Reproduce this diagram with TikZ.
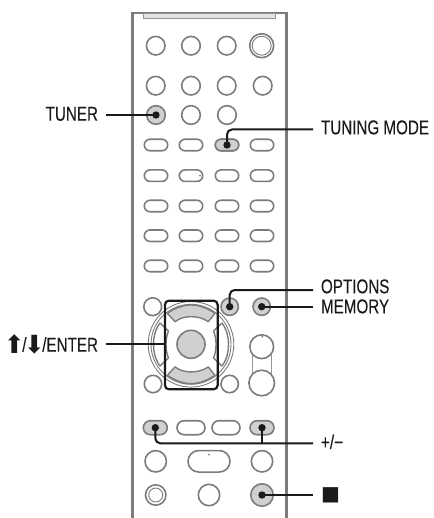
\documentclass[tikz,border=0pt]{standalone}
\usepackage{fontspec}
\setmainfont[FakeStretch=0.76,FakeBold=0.15]{Liberation Sans}
\newfontfamily\djv{DejaVu Sans}
\usetikzlibrary{shapes.misc}
\definecolor{edgegray}{HTML}{7C7C7C}
\definecolor{fillgray}{HTML}{D0D0D0}
\definecolor{inkblack}{HTML}{1A1A1A}
\tikzset{
  x=1pt,y=-1pt,
  btn/.style={circle,draw=edgegray,line width=1.6pt,inner sep=0pt,minimum size=#1*2pt},
  btn/.default=9.3,
  pill/.style={rounded rectangle,draw=edgegray,line width=1.6pt,inner sep=0pt,minimum width=#1*2pt,minimum height=11.5pt},
  pill/.default=11.7,
  hot/.style={fill=fillgray},
  conn/.style={draw=inkblack,line width=2pt,rounded corners=5pt},
  dotmark/.style={fill=inkblack,draw=none,circle,inner sep=0pt,minimum size=7.4pt},
  lab/.style={inner sep=0pt,outer xsep=8pt,font=\fontsize{20}{20}\selectfont,text=inkblack},
  spot/.style={fill=gray,draw=none,circle,inner sep=0pt,minimum size=2pt},
  wedge/.style={draw=edgegray,line width=1.4pt,line join=round},
  thinring/.style={draw=edgegray,line width=0.9pt},
}
\newcommand{\bigarrow}[1]{\kern-2.6pt\raisebox{-1.4pt}{\djv\fontsize{25}{25}\selectfont #1}\kern-2.6pt}
\begin{document}
\begin{tikzpicture}
\useasboundingbox (0,0) rectangle (433,518);
% case
\draw[edgegray,line width=2.2pt] (132.5,518) -- (132.5,13) -- (286.5,13) -- (286.5,518);
\draw[edgegray!80,line width=1.2pt,fill=fillgray!60] (143.5,13.5) rectangle (275.5,18.5);
% row 1-3
\node[btn] (a1) at (155.7,45.7) {};
\node[btn] (a2) at (191,45.7) {};
\node[btn] (a3) at (226.7,45.7) {};
\node[btn=12] (a4) at (261.7,45.7) {};
\node[circle,thinring,inner sep=0pt,minimum size=19pt] (a4i) at (a4) {};
\node[btn] (b1) at (155.7,85.7) {};
\node[btn] (b2) at (191,85.7) {};
\node[btn] (b3) at (226.7,85.7) {};
\node[btn] (b4) at (262.7,85.7) {};
\node[btn,hot] (tuner) at (156,115) {};
\node[btn] (c2) at (191,115) {};
\node[btn] (c3) at (227,115) {};
% pill rows
\foreach \yy/\nm in {145/d,175.7/e,206/f,235.7/g,266/h}{
  \node[pill] (\nm1) at (156,\yy) {};
  \node[pill] (\nm2) at (191,\yy) {};
  \node[pill] (\nm3) at (227,\yy) {};
  \node[pill] (\nm4) at (262,\yy) {};
}
\node[pill,hot] (mode) at (227,145) {};
\node[spot] (s1) at (200,175.7) {};
% row 9
\node[btn=8.9] (i1) at (152.7,306.7) {};
\node[btn=8.7,hot] (options) at (229.7,306.7) {};
\node[btn=8.7,hot] (memory) at (261.7,306.7) {};
% pad
\node[circle,thinring,inner sep=0pt,minimum size=85.6pt] (ringo) at (191,344.3) {};
\node[circle,thinring,inner sep=0pt,minimum size=80pt] (ringi) at (191,344.3) {};
\draw[wedge,fill=white] (160,323) .. controls (155,330) and (153.5,337) .. (153.5,344.3) .. controls (153.5,352) and (155,359) .. (160,366) -- (168.5,358) .. controls (166.5,353) and (166,349) .. (166,344.3) .. controls (166,340) and (166.5,336) .. (168.5,331) -- cycle;
\draw[wedge,fill=white] (222,323) .. controls (227,330) and (228.5,337) .. (228.5,344.3) .. controls (228.5,352) and (227,359) .. (222,366) -- (213.5,358) .. controls (215.5,353) and (216,349) .. (216,344.3) .. controls (216,340) and (215.5,336) .. (213.5,331) -- cycle;
\draw[wedge,fill=fillgray] (167.3,313.3) .. controls (175,308) and (183,305) .. (191,305) .. controls (199,305) and (207,308) .. (215,313.3) -- (208.3,321.7) .. controls (203,318) and (197,316.7) .. (191,316.7) .. controls (185,316.7) and (180,318) .. (175,321.7) -- cycle;
\draw[wedge,fill=fillgray] (167.3,375.3) .. controls (175,380.6) and (183,383.6) .. (191,383.6) .. controls (199,383.6) and (207,380.6) .. (215,375.3) -- (208.3,366.9) .. controls (203,370.6) and (197,371.9) .. (191,371.9) .. controls (185,371.9) and (180,370.6) .. (175,366.9) -- cycle;
\node[btn=14,hot] (center) at (191,344.3) {};
\node[btn=8.7,fill=white] (j1) at (153,384) {};
\node[btn=8.7,fill=white] (j2) at (229.7,384) {};
\node[rectangle,draw=inkblack,line width=2.2pt,rounded corners=4pt,minimum width=52.7pt,minimum height=88.6pt,inner sep=0pt,outer sep=0pt] (padbox) at (191.3,345) {};
% capsule
\draw[edgegray!80,line width=1pt] (252.3,355) -- (252.3,375) (271.3,355) -- (271.3,375);
\node[btn=11.9] (k1) at (261.7,346.7) {};
\node[btn=12.8,fill=white] (k2) at (261.7,383) {};
\node[spot] (s2) at (262.3,336.7) {};
% lower rows
\node[pill=12,hot,minimum height=14pt] (plus) at (155.3,427.7) {};
\node[pill=14,minimum height=14pt] (m2) at (191,427.7) {};
\node[pill=14,minimum height=14pt] (m3) at (226,427.7) {};
\node[pill=12,hot,minimum height=14pt] (minus) at (262,427.7) {};
\node[btn=10.7] (n1) at (155.7,461.3) {};
\node[pill=21,minimum height=21.5pt] (n2) at (209,461.3) {};
\node[spot] (s3) at (209,454.7) {};
\node[btn=10.7] (n3) at (262,461.3) {};
\node[btn=10.2] (o1) at (155.7,495) {};
\node[circle,thinring,inner sep=0pt,minimum size=14pt] (o1i) at (o1) {};
\node[btn=10.7] (o2) at (209,495) {};
\node[btn=11.2,hot] (stop) at (262,495) {};
% labels
\node[lab,anchor=base east] (ltuner) at (106,120.7) {TUNER};
\node[lab,anchor=base west] (lmode) at (313,134.3) {TUNING MODE};
\node[lab,anchor=base west] (loptions) at (313,293.3) {OPTIONS};
\node[lab,anchor=base west] (lmemory) at (313,313.3) {MEMORY};
\node[lab,anchor=base east] (lenter) at (106,351.7) {\bigarrow{⬆}/\bigarrow{⬇}/ENTER};
\node[lab,anchor=base west] (lplus) at (313,449) {+/−};
\node[lab,anchor=base west,font=\fontsize{20}{20}\selectfont] (lstop) at (313,500) {\djv ■};
% connectors
\coordinate (pe) at (padbox.west |- center);
\draw[conn] (tuner.center) -- (ltuner.east |- tuner);
\draw[conn] (mode.center) |- (lmode.west |- 0,129.5);
\draw[conn] (options.center) |- (loptions.west |- 0,290);
\draw[conn] (memory.center) -- (lmemory.west |- memory);
\draw[conn] (pe) -- (lenter.east |- pe);
\coordinate (jun) at (minus |- 0,443.3);
\draw[conn] (plus.center) |- (lplus.west |- jun);
\draw[conn] (minus.center) -- (jun);
\draw[conn] (stop.center) -- (lstop.west |- stop);
\foreach \q in {tuner,mode,options,memory,plus,minus,stop}
  \node[dotmark] (dot\q) at (\q) {};
\end{tikzpicture}
\end{document}
